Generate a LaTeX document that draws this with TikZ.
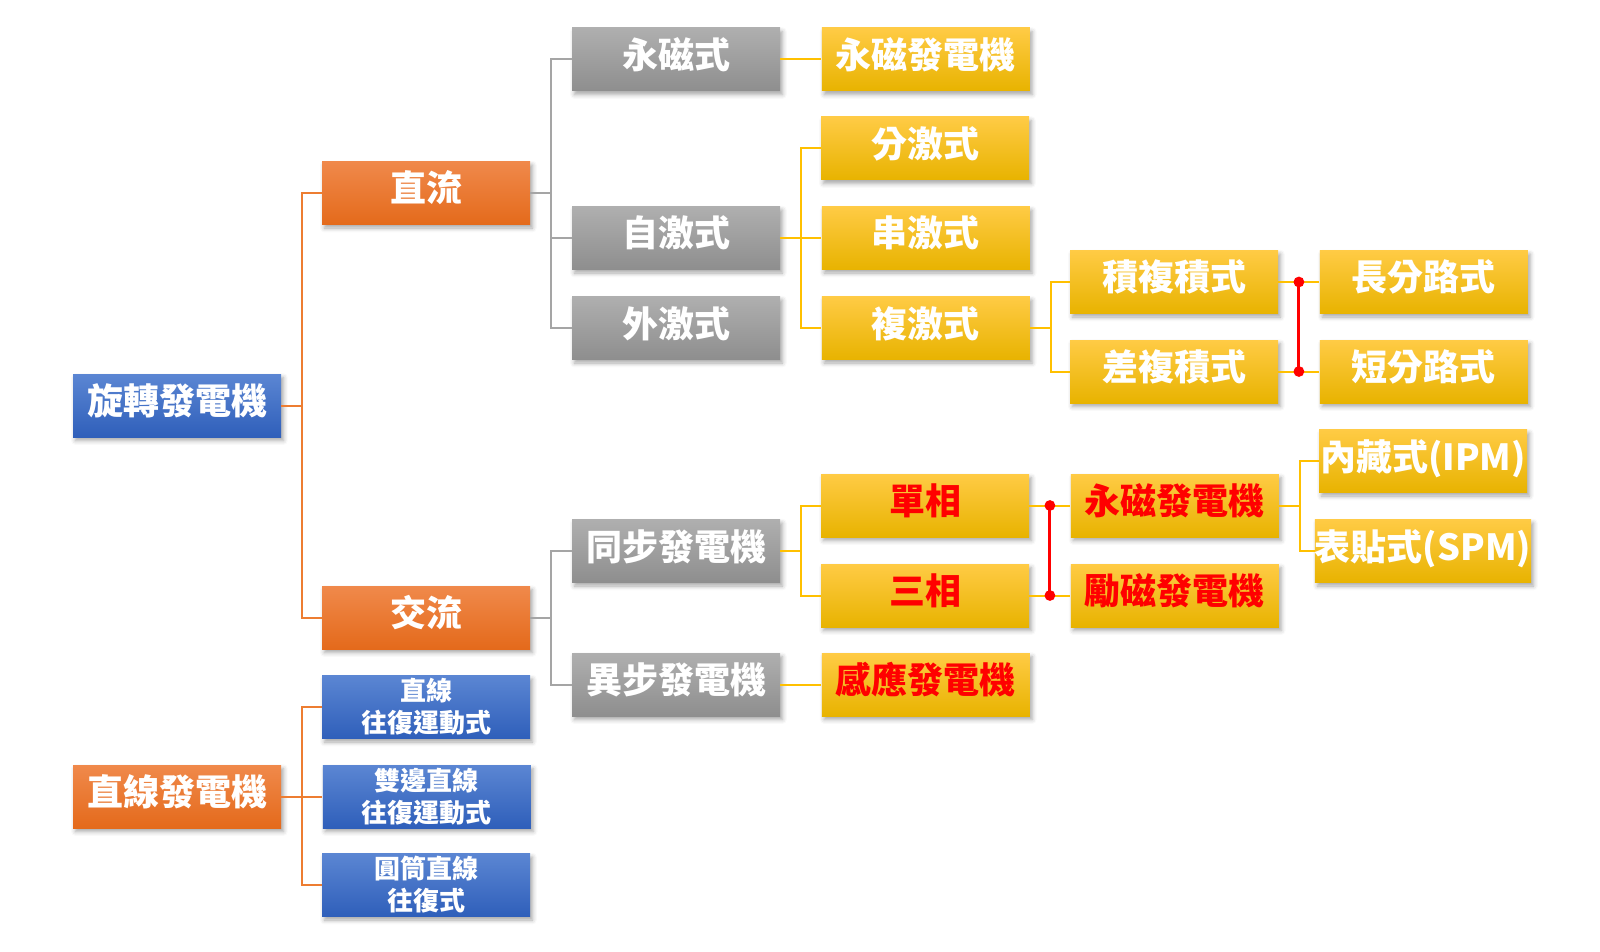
\documentclass[tikz,border=0pt]{standalone}
\usepackage{fontspec}
\setmainfont{Noto Sans CJK TC}
\usetikzlibrary{positioning, shadows.blur, calc}
\definecolor{orTop}{HTML}{F0894B}
\definecolor{orBot}{HTML}{E46A1B}
\definecolor{blTop}{HTML}{5B86D3}
\definecolor{blBot}{HTML}{2F5FBA}
\definecolor{grTop}{HTML}{AFAFAF}
\definecolor{grBot}{HTML}{8E8E8E}
\definecolor{yeTop}{HTML}{FFCB45}
\definecolor{yeBot}{HTML}{E8B300}
\definecolor{lnOr}{HTML}{ED7D31}
\definecolor{lnGr}{HTML}{A5A5A5}
\definecolor{lnYe}{HTML}{FFC000}
\tikzstyle{box} = [rectangle, minimum width=104pt, minimum height=31.5pt, inner sep=0pt, text centered, text=white, font=\fontsize{18}{20}\selectfont\bfseries, text height=1.02em, text depth=0.12em, blur shadow={shadow xshift=1.2pt, shadow yshift=-1.8pt, shadow blur steps=4, shadow opacity=35}]
\tikzstyle{orbox} = [box, top color=orTop, bottom color=orBot]
\tikzstyle{bluebox} = [box, top color=blTop, bottom color=blBot]
\tikzstyle{graybox} = [box, top color=grTop, bottom color=grBot]
\tikzstyle{yelbox} = [box, top color=yeTop, bottom color=yeBot]
\tikzstyle{redtext} = [text=red]
\tikzstyle{smalltext} = [font=\fontsize{13}{16}\selectfont\bfseries, align=center, text height=, text depth=]
\tikzstyle{orline} = [draw=lnOr, line width=1pt]
\tikzstyle{grayline} = [draw=lnGr, line width=1pt]
\tikzstyle{yelline} = [draw=lnYe, line width=1pt]
\tikzstyle{redline} = [draw=red, line width=1.5pt]
\begin{document}
\begin{tikzpicture}[x=0.5pt, y=-0.5pt, node distance=20.5pt]

    \useasboundingbox (0,0) rectangle (1600,952);

    % rotating / linear machines
    \node (rot) [bluebox] at (177,405.5) {旋轉發電機};
    \node (dc) [orbox] at (426,193) {直流};
    \node (ac) [orbox] at (426,617.5) {交流};
    \node (lin) [orbox] at (177,796.5) {直線發電機};
    \node (lin1) [bluebox, smalltext] at (426,707) {直線\\往復運動式};
    \node (lin2) [bluebox, smalltext, right=of lin] {雙邊直線\\往復運動式};
    \node (lin3) [bluebox, smalltext] at (426,885) {圓筒直線\\往復式};

    % DC branch
    \node (pmt) [graybox] at (676,59.5) {永磁式};
    \node (pmg) [yelbox, right=of pmt] {永磁發電機};
    \node (shunt) [yelbox] at (925,148.5) {分激式};
    \node (self) [graybox] at (676,238) {自激式};
    \node (ser) [yelbox, right=of self] {串激式};
    \node (sep) [graybox] at (676,328) {外激式};
    \node (comp) [yelbox, right=of sep] {複激式};
    \node (cum) [yelbox] at (1174,282) {積複積式};
    \node (longs) [yelbox, right=of cum] {長分路式};
    \node (diff) [yelbox] at (1174,371.5) {差複積式};
    \node (shorts) [yelbox, right=of diff] {短分路式};

    % AC branch
    \node (sync) [graybox] at (676,551) {同步發電機};
    \node (single) [yelbox, redtext] at (925,505.5) {單相};
    \node (pmsg) [yelbox, redtext, right=of single] {永磁發電機};
    \node (three) [yelbox, redtext] at (925,595.5) {三相};
    \node (exc) [yelbox, redtext, right=of three] {勵磁發電機};
    \node (ipm) [yelbox] at (1423,461) {內藏式(IPM)};
    \node (spm) [yelbox] at (1423,551) {表貼式(SPM)};
    \node (async) [graybox] at (676,684.5) {異步發電機};
    \node (ind) [yelbox, redtext, right=of async] {感應發電機};

    \draw [orline] (rot.east) -- ++(20.5,0) |- (dc.west);
    \draw [orline] (rot.east) -- ++(20.5,0) |- (ac.west);
    \draw [orline] (lin.east) -- ++(20.5,0) |- (lin1.west);
    \draw [orline] (lin) -- (lin2);
    \draw [orline] (lin.east) -- ++(20.5,0) |- (lin3.west);

    \draw [grayline] (dc.east) -- ++(21,0) |- (pmt.west);
    \draw [grayline] (dc.east) -- ++(21,0) |- (self.west);
    \draw [grayline] (dc.east) -- ++(21,0) |- (sep.west);
    \draw [grayline] (ac.east) -- ++(21,0) |- (sync.west);
    \draw [grayline] (ac.east) -- ++(21,0) |- (async.west);

    \draw [yelline] (pmt) -- (pmg);
    \draw [yelline] (self.east) -- ++(20.5,0) |- (shunt.west);
    \draw [yelline] (self) -- (ser);
    \draw [yelline] (self.east) -- ++(20.5,0) |- (comp.west);
    \draw [yelline] (comp.east) -- ++(20.5,0) |- (cum.west);
    \draw [yelline] (comp.east) -- ++(20.5,0) |- (diff.west);
    \draw [yelline] (cum) -- (longs);
    \draw [yelline] (diff) -- (shorts);

    \draw [yelline] (sync.east) -- ++(20.5,0) |- (single.west);
    \draw [yelline] (sync.east) -- ++(20.5,0) |- (three.west);
    \draw [yelline] (single) -- (pmsg);
    \draw [yelline] (three) -- (exc);
    \draw [yelline] (pmsg.east) -- ++(21,0) |- (ipm.west);
    \draw [yelline] (pmsg.east) -- ++(21,0) |- (spm.west);
    \draw [yelline] (async) -- (ind);

    % red links
    \coordinate (r1) at ($(cum.east)!0.5!(longs.west)$);
    \coordinate (r2) at ($(diff.east)!0.5!(shorts.west)$);
    \coordinate (r3) at ($(single.east)!0.5!(pmsg.west)$);
    \coordinate (r4) at ($(three.east)!0.5!(exc.west)$);
    \draw [redline] (r1) -- (r2);
    \draw [redline] (r3) -- (r4);
    \foreach \p in {r1, r2, r3, r4}
        \fill [red] (\p) circle (2.7pt);

\end{tikzpicture}
\end{document}
